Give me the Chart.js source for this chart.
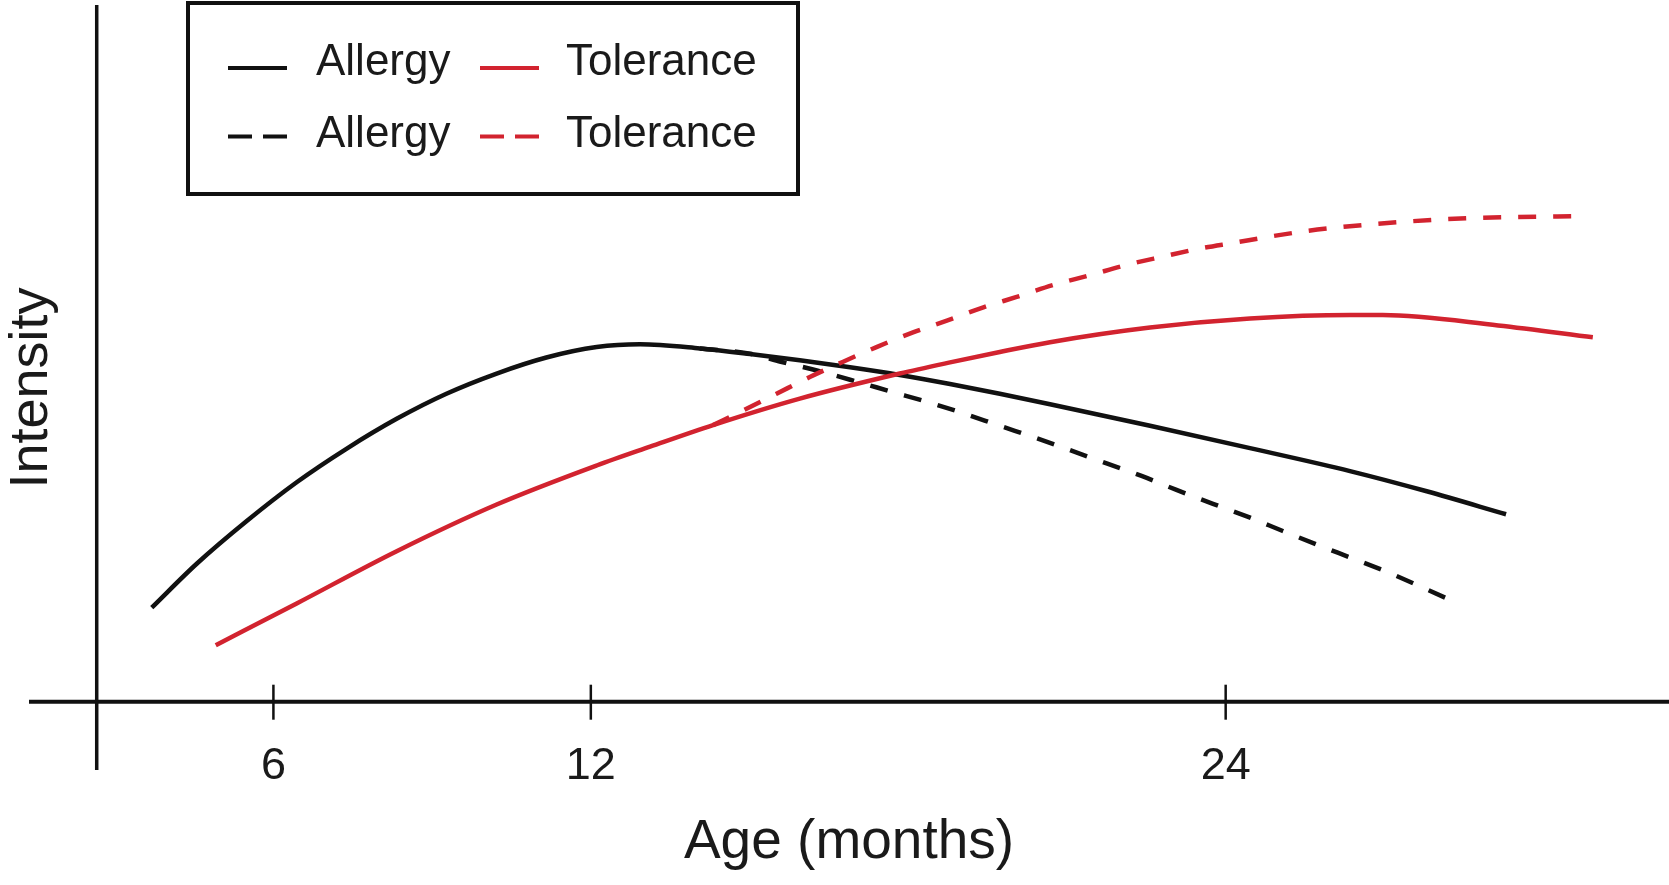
<!DOCTYPE html>
<html>
<head>
<meta charset="utf-8">
<title>Allergy and tolerance by age</title>
<script src="https://cdn.jsdelivr.net/npm/chart.js@4.4.1/dist/chart.umd.min.js"></script>
<style>
  html, body { margin: 0; padding: 0; background: #fff; }
  #wrap { position: relative; width: 1669px; height: 885px; }
</style>
</head>
<body>
<div id="wrap"><canvas id="chart"></canvas></div>
<script>
const tickMonths = [6, 12, 24];
const monthRange = [1.38, 32.38];
const intensityRange = [-4.78, 94.83];
const yAxisRange = [-9.8, 100];
const yAxisMonth = 2.66;

const legendLabels = ['Allergy', 'Tolerance', 'Allergy', 'Tolerance'];

const allergyMonths = [3.70, 4.55, 5.49, 6.44, 7.38, 8.33, 9.27, 10.22, 11.16, 12.11, 12.93, 14.06,
  15.01, 15.95, 16.90, 17.84, 18.79, 19.73, 20.68, 22.57, 24.46, 26.35, 27.80, 29.30];
const allergyValues = [13.5, 19.8, 25.9, 31.5, 36.3, 40.6, 44.2, 47.1, 49.4, 50.9, 51.3, 50.7,
  49.9, 49.0, 48.0, 46.9, 45.6, 44.2, 42.7, 39.6, 36.4, 33.1, 30.2, 26.9];

const allergyDashMonths = [14.06, 15.04, 15.59, 16.29, 17.00, 17.68, 18.37, 19.04, 19.73, 20.40, 21.06,
  21.75, 22.41, 23.07, 23.76, 24.40, 25.08, 25.74, 26.42, 27.09, 27.75, 28.39];
const allergyDashValues = [50.7, 49.9, 48.8, 47.5, 46.0, 44.5, 43.0, 41.4, 39.6, 37.9, 36.1,
  34.2, 32.4, 30.4, 28.4, 26.6, 24.5, 22.5, 20.5, 18.5, 16.3, 14.1];

const toleranceMonths = [4.91, 6.44, 8.33, 10.22, 12.11, 13.12, 14.31, 15.95, 17.84, 18.79, 19.73,
  20.68, 22.57, 24.46, 26.35, 26.97, 29.15, 30.94];
const toleranceValues = [8.1, 14.1, 21.6, 28.3, 33.9, 36.6, 39.7, 43.5, 47.1, 48.7, 50.2,
  51.6, 53.7, 55.0, 55.5, 55.5, 54.0, 52.3];

const toleranceDashMonths = [14.31, 14.88, 15.51, 16.14, 16.77, 17.40, 18.09, 18.73, 19.42, 20.05, 20.74,
  21.43, 22.13, 22.82, 23.48, 24.18, 24.87, 25.57, 26.29, 27.40, 28.56, 30.70];
const toleranceDashValues = [39.7, 41.8, 44.2, 46.6, 48.8, 50.9, 53.0, 54.7, 56.6, 58.1, 59.8,
  61.2, 62.7, 63.9, 65.0, 65.9, 66.8, 67.6, 68.2, 68.9, 69.4, 69.7];

const black = '#111111';
const red = '#d2232f';
const fontFamily = '"Liberation Sans", Arial, Helvetica, sans-serif';
const plotDash = [18, 17];
const legendDash = [24, 11];

function toPoints(months, values) {
  return months.map((m, i) => ({ x: m, y: values[i] }));
}

// axes cross each other like in the printed figure, so they are drawn here
const crossAxes = {
  id: 'crossAxes',
  beforeDatasetsDraw(chart) {
    const { ctx, chartArea, scales: { x, y } } = chart;
    const axisY = y.getPixelForValue(0);
    const axisX = x.getPixelForValue(yAxisMonth);
    ctx.save();
    ctx.strokeStyle = black;
    ctx.lineWidth = 4;
    ctx.beginPath();
    ctx.moveTo(chartArea.left, axisY);
    ctx.lineTo(chartArea.right, axisY);
    ctx.stroke();
    ctx.lineWidth = 3.5;
    ctx.beginPath();
    ctx.moveTo(axisX, y.getPixelForValue(yAxisRange[1]));
    ctx.lineTo(axisX, y.getPixelForValue(yAxisRange[0]));
    ctx.stroke();
    ctx.lineWidth = 2.5;
    x.ticks.forEach(tick => {
      const px = x.getPixelForValue(tick.value);
      ctx.beginPath();
      ctx.moveTo(px, axisY - 17);
      ctx.lineTo(px, axisY + 18);
      ctx.stroke();
    });
    ctx.restore();
  }
};

const boxLegend = {
  id: 'boxLegend',
  afterDraw(chart) {
    const ctx = chart.ctx;
    const sampleX = [228, 480];
    const textX = [316, 566];
    const lineY = [68, 136.5];
    const textY = [75, 147];
    ctx.save();
    ctx.strokeStyle = black;
    ctx.lineWidth = 4;
    ctx.strokeRect(188, 3, 610, 191);
    ctx.font = '44px ' + fontFamily;
    ctx.fillStyle = '#1a1a1a';
    ctx.textBaseline = 'alphabetic';
    chart.data.datasets.forEach((ds, i) => {
      const col = i % 2;
      const row = Math.floor(i / 2);
      ctx.strokeStyle = ds.borderColor;
      ctx.lineWidth = 4;
      ctx.setLineDash(ds.borderDash.length ? legendDash : []);
      ctx.beginPath();
      ctx.moveTo(sampleX[col], lineY[row]);
      ctx.lineTo(sampleX[col] + 59, lineY[row]);
      ctx.stroke();
      ctx.fillText(ds.label, textX[col], textY[row]);
    });
    ctx.restore();
  }
};

new Chart(document.getElementById('chart'), {
  type: 'line',
  data: {
    datasets: [
      { label: legendLabels[0], data: toPoints(allergyMonths, allergyValues), borderColor: black, borderDash: [], order: 2 },
      { label: legendLabels[1], data: toPoints(toleranceMonths, toleranceValues), borderColor: red, borderDash: [], order: 0 },
      { label: legendLabels[2], data: toPoints(allergyDashMonths, allergyDashValues), borderColor: black, borderDash: plotDash, order: 3 },
      { label: legendLabels[3], data: toPoints(toleranceDashMonths, toleranceDashValues), borderColor: red, borderDash: plotDash, order: 1 },
    ],
  },
  options: {
    responsive: true,
    maintainAspectRatio: false,
    animation: false,
    events: [],
    layout: { padding: { top: 41, left: 0, right: 0, bottom: 0 } },
    elements: {
      point: { radius: 0 },
      line: { borderWidth: 4.5, cubicInterpolationMode: 'monotone', borderCapStyle: 'butt', fill: false },
    },
    plugins: {
      legend: { display: false },
      tooltip: { enabled: false },
    },
    scales: {
      x: {
        type: 'linear',
        min: monthRange[0],
        max: monthRange[1],
        afterBuildTicks: axis => { axis.ticks = tickMonths.map(v => ({ value: v })); },
        afterFit: axis => { axis.height = 150; },
        grid: { display: false, drawTicks: false },
        border: { display: false },
        ticks: {
          padding: 5,
          color: '#1a1a1a',
          font: { family: fontFamily, size: 45 },
          maxRotation: 0,
          autoSkip: false,
        },
        title: {
          display: true,
          text: 'Age (months)',
          color: '#1a1a1a',
          font: { family: fontFamily, size: 55 },
          padding: { top: 0, bottom: 9.5 },
        },
      },
      y: {
        min: intensityRange[0],
        max: intensityRange[1],
        afterFit: axis => { axis.width = 29; },
        grid: { display: false, drawTicks: false },
        border: { display: false },
        ticks: { display: false },
        title: {
          display: true,
          text: 'Intensity',
          color: '#1a1a1a',
          font: { family: fontFamily, size: 54 },
          padding: { top: 0, bottom: 0 },
        },
      },
    },
  },
  plugins: [crossAxes, boxLegend],
});
</script>
</body>
</html>
